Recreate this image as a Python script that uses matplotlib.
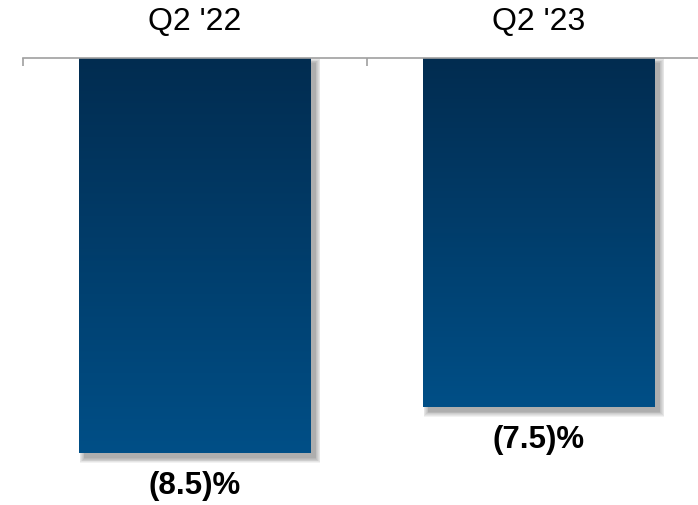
import numpy as np
import matplotlib
matplotlib.use("Agg")
import matplotlib.pyplot as plt
from matplotlib.patches import Rectangle
from matplotlib.colors import LinearSegmentedColormap
import matplotlib.transforms as mtrans

categories = ["Q2 '22", "Q2 '23"]
values = [-8.5, -7.5]
value_labels = ["(8.5)%", "(7.5)%"]

plt.rcParams['font.family'] = ['Liberation Sans', 'DejaVu Sans']

W, H = 698, 505
fig = plt.figure(figsize=(W / 100, H / 100), dpi=100)
ax_left, ax_right, ax_top = 23, 711, 58
ax = fig.add_axes([ax_left / W, 0, (ax_right - ax_left) / W, 1 - ax_top / H])

px_per_unit = 46.5
ax.set_xlim(-0.5, len(categories) - 0.5)
ax.set_ylim(-(H - ax_top) / px_per_unit, 0)

cmap = LinearSegmentedColormap.from_list("g", ["#004f87", "#022c50"])
grad = np.linspace(0, 1, 256).reshape(-1, 1)

bar_w = 0.672
bars = ax.bar(range(len(categories)), values, width=bar_w, color="none", zorder=3)

# units per pixel
ux = (len(categories)) / (ax_right - ax_left)
uy = 1 / px_per_unit

for i, (b, v) in enumerate(zip(bars, values)):
    x0 = b.get_x()
    w = b.get_width()
    # soft shadow offset to the right and below
    off = 5
    for k in range(7):
        grow = k * 0.8
        sh = Rectangle((x0 + (off - grow) * ux, v - (off + grow) * uy),
                       w + 2 * grow * ux, -v + 2 * grow * uy,
                       facecolor="#000000", alpha=0.05, edgecolor="none",
                       zorder=2)
        ax.add_patch(sh)
    im = ax.imshow(grad, extent=[x0, x0 + w, v, 0], aspect="auto",
                   cmap=cmap, origin="lower", zorder=3)
    im.set_clip_path(b)
    t = ax.text(i, v, value_labels[i], ha="center", va="top", fontsize=22.5,
                fontweight="bold", color="#000000")
    t.set_transform(ax.transData + mtrans.ScaledTranslation(0, -13 / 72, fig.dpi_scale_trans))

ax.set_xlim(-0.5, len(categories) - 0.5)
ax.set_ylim(-(H - ax_top) / px_per_unit, 0)

for s in ["left", "right", "bottom"]:
    ax.spines[s].set_visible(False)
ax.spines["top"].set_color("#a0a0a0")
ax.spines["top"].set_linewidth(1.2)
ax.spines["top"].set_zorder(4)
ax.xaxis.tick_top()
ax.set_xticks([-0.5, 0.5, 1.5])
ax.set_xticklabels([])
ax.set_xticks(range(len(categories)), labels=categories, minor=True)
ax.tick_params(axis="x", which="major", direction="in", length=6,
               color="#a0a0a0", width=1.2)
ax.tick_params(axis="x", which="minor", length=0, pad=15, labelsize=23,
               labelcolor="#000000")
ax.set_yticks([])
ax.patch.set_alpha(0)

fig.savefig("out.png", dpi=100)
